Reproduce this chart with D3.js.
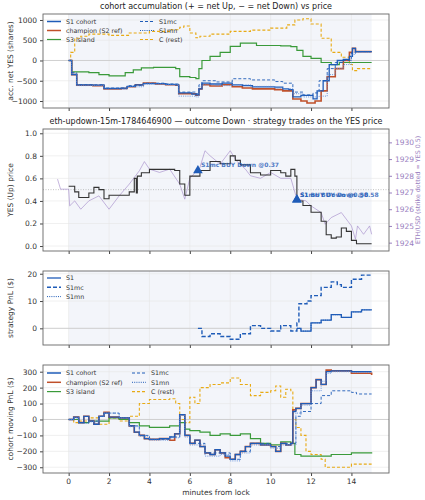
<!DOCTYPE html>
<html><head><meta charset="utf-8">
<script src="https://cdn.jsdelivr.net/npm/d3@7"></script>
<style>body{margin:0;background:#fff}text{font-family:"DejaVu Sans",sans-serif}</style>
</head><body><svg id="chart" width="425" height="500"></svg>
<script>
// accumulated net YES shares, [minute, value]
const accS1 = [[0,0],[0.15,-350],[0.4,-600],[1.2,-610],[1.6,-600],[1.75,-690],[2.6,-680],[2.9,-640],[3.3,-600],[3.7,-570],[4.3,-570],[4.8,-590],[5.3,-600],[5.45,-800],[6.1,-830],[6.3,-850],[6.45,-700],[6.6,-560],[7,-580],[7.6,-560],[8.1,-600],[8.6,-620],[9.1,-650],[10.2,-660],[10.6,-700],[10.9,-720],[11.1,-900],[11.5,-860],[12.1,-950],[12.3,-750],[12.6,-500],[12.9,-100],[13.3,0],[13.6,30],[13.9,100],[14.05,300],[14.2,220],[15,220]];
const accChamp = [[0,0],[0.15,-350],[0.4,-610],[1.2,-620],[1.75,-700],[2.6,-690],[2.9,-650],[3.3,-600],[3.7,-560],[4.3,-580],[4.8,-600],[5.3,-610],[5.45,-820],[6.3,-860],[6.45,-700],[6.6,-600],[7,-630],[7.6,-600],[8.1,-650],[8.6,-680],[9.1,-700],[10.2,-720],[10.6,-750],[11.1,-950],[11.5,-1000],[11.8,-1050],[12.2,-1000],[12.5,-750],[12.8,-400],[13.2,-200],[13.6,0],[13.9,200],[14.05,300],[14.2,220],[15,220]];
const accS1mc = [[0,0],[0.15,-300],[0.4,-600],[1.75,-680],[2.9,-620],[3.7,-560],[4.8,-580],[5.45,-780],[6.3,-820],[6.45,-600],[6.6,-500],[7.3,-530],[8.1,-450],[9,-480],[10.2,-520],[10.6,-560],[11.1,-780],[11.6,-850],[12.1,-800],[12.4,-500],[12.8,-200],[13.2,-50],[13.6,0],[14,200],[14.2,220],[15,220]];
const accS1mn = [[0,0],[0.15,-320],[0.4,-620],[1.75,-710],[2.9,-650],[3.7,-580],[4.8,-600],[5.45,-880],[6.3,-900],[6.45,-650],[6.6,-600],[7.3,-620],[8.1,-600],[9,-640],[10.2,-680],[10.6,-700],[11.1,-820],[11.6,-900],[12.4,-880],[12.8,-350],[13.2,-200],[13.6,-100],[14,150],[14.2,200],[15,200]];
const accS3 = [[0,0],[0.15,-280],[1,-300],[1.5,-350],[2,-380],[2.8,-300],[3.2,-230],[3.6,-180],[4.2,-170],[5.3,-200],[5.5,-400],[6,-420],[6.3,-450],[6.45,-200],[6.6,0],[7,100],[7.5,200],[8,350],[8.5,430],[9,430],[9.3,370],[10.5,360],[11,340],[11.3,250],[11.6,100],[12,50],[12.5,-50],[13,-100],[13.4,-50],[15,-50]];
const accC = [[0,0],[0.1,200],[0.3,550],[0.6,600],[1,650],[2,620],[3,680],[4,720],[5,760],[5.5,820],[5.7,850],[6,680],[6.3,560],[6.5,600],[7,650],[8,720],[9,750],[10,800],[10.8,880],[11.2,1000],[11.6,1030],[12,900],[12.5,550],[13,200],[13.5,80],[13.9,-100],[14.05,-250],[14.3,-200],[15,-200]];

// market price
const yesPrice = [[0,0.53],[0.3,0.48],[0.5,0.43],[1,0.47],[1.25,0.52],[1.5,0.5],[1.75,0.42],[2,0.45],[2.5,0.45],[3,0.48],[3.25,0.6],[3.35,0.47],[3.4,0.62],[3.6,0.65],[4,0.68],[5,0.68],[5.25,0.67],[5.5,0.55],[5.75,0.45],[6,0.62],[6.5,0.67],[7,0.75],[7.5,0.73],[8,0.8],[8.25,0.76],[8.5,0.72],[9,0.65],[9.5,0.63],[10,0.67],[10.5,0.65],[10.75,0.62],[11,0.68],[11.2,0.62],[11.3,0.4],[11.6,0.36],[12,0.3],[12.5,0.22],[12.75,0.1],[13,0.07],[13.25,0.08],[13.5,0.16],[13.75,0.13],[14,0.05],[14.25,0.02],[15,0.02]];
const ethPrice = [[-0.55,1927.8],[-0.4,1927.2],[0,1927.2],[0.05,1926.2],[0.3,1926.5],[0.6,1926],[1,1926.5],[1.5,1926.8],[2,1926],[2.5,1926.8],[3,1927.5],[3.5,1928.3],[3.75,1928.85],[4,1928.4],[4.5,1928.2],[5,1928.4],[5.5,1927.5],[5.75,1926.6],[6,1927.85],[6.5,1928.5],[6.75,1929.5],[7,1929.2],[7.5,1928.7],[8,1929.5],[8.3,1928.9],[8.75,1928.4],[9,1928],[9.5,1927.85],[10,1928.2],[10.5,1927.85],[11,1927.85],[11.3,1926.6],[11.75,1926.5],[12,1926.2],[12.5,1925.8],[12.7,1925.1],[13,1925.5],[13.5,1925.8],[14,1925],[14.2,1924.2],[14.3,1925],[14.6,1924.5],[14.9,1925],[15,1924.5]];
const trades = [{t:6.4,p:0.67,label:"S1mc BUY Down @0.37",dy:-3},{t:11.3,p:0.41,label:"S1mn BUY Down @0.58",dy:-3},{t:11.3,p:0.41,label:"S1 BUY Down @0.58",dy:-3}];

// strategy PnL
const pnlS1 = [[11.3,0],[11.5,-1],[12,2],[12.5,3],[13,5],[13.5,4],[14,6],[14.5,6.8],[15,6.8]];
const pnlS1mc = [[6.4,0],[6.6,-3],[7,-2],[7.5,-3],[8,-4],[8.5,-2],[9,1],[9.5,0],[10,-1],[10.5,1],[11,-1],[11.3,2],[11.4,9],[11.8,10],[12,12],[12.5,15],[13,17],[13.3,16],[13.5,15],[14,18],[14.5,19.5],[15,19.5]];
const pnlS1mn = [[11.3,0],[11.5,-1],[12,2],[12.5,3],[13,5],[13.5,4],[14,6],[14.5,6.8],[15,6.8]];

// cohort moving PnL
const mpS1 = [[0,0],[0.25,15],[0.5,-20],[0.75,20],[1,-10],[1.25,-30],[1.5,20],[1.75,40],[2,15],[2.5,10],[3,-40],[3.25,-80],[3.5,-100],[3.75,-120],[4,-125],[4.5,-120],[5,-110],[5.25,-90],[5.5,30],[5.75,-100],[6,-150],[6.25,-130],[6.5,-170],[6.75,-210],[7,-220],[7.25,-190],[7.5,-210],[7.75,-230],[8,-250],[8.25,-220],[8.5,-200],[8.75,-170],[9,-150],[9.5,-160],[10,-170],[10.25,-200],[10.5,-150],[10.75,-160],[11,-150],[11.1,50],[11.25,70],[11.5,100],[12,200],[12.25,250],[12.5,220],[12.75,300],[13,305],[14,300],[15,300]];
const mpChamp = [[0,0],[0.25,15],[0.5,-20],[0.75,20],[1,-10],[1.25,-30],[1.5,20],[1.75,45],[2,15],[2.5,10],[3,-40],[3.25,-80],[3.5,-100],[3.75,-120],[4,-125],[4.5,-120],[5,-130],[5.25,-90],[5.5,30],[5.75,-100],[6,-150],[6.25,-130],[6.5,-170],[6.75,-210],[7,-220],[7.25,-190],[7.5,-210],[7.75,-240],[8,-250],[8.25,-220],[8.5,-200],[8.75,-170],[9,-150],[9.5,-160],[10,-170],[10.25,-200],[10.5,-150],[10.75,-160],[11,-150],[11.1,60],[11.25,70],[11.5,100],[12,200],[12.25,250],[12.5,220],[12.75,310],[13,305],[14,290],[15,280]];
const mpS1mc = [[0,0],[0.25,10],[0.5,-20],[1,-10],[1.5,20],[1.75,40],[2.5,10],[3,-40],[3.5,-100],[4,-125],[5,-110],[5.5,30],[5.75,-100],[6,-150],[6.75,-210],[7.5,-210],[8,-250],[8.5,-200],[9,-150],[10,-170],[10.5,-150],[11,-150],[11.25,20],[11.5,50],[12,100],[12.5,150],[13,180],[14,170],[14.25,160],[15,160]];
const mpS1mn = [[0,0],[0.25,10],[0.5,-25],[1,-15],[1.5,20],[1.75,40],[2.5,10],[3,-45],[3.5,-105],[4,-130],[5,-115],[5.5,25],[5.75,-110],[6,-160],[6.75,-230],[7.5,-220],[8,-260],[8.5,-210],[9,-160],[10,-180],[10.5,-160],[11,-160],[11.25,40],[11.5,90],[12,180],[12.5,240],[12.75,290],[13,300],[14,295],[15,295]];
const mpS3 = [[0,0],[0.5,-20],[1,-10],[2,10],[2.5,0],[3,-20],[3.5,-40],[4,-50],[5,-40],[5.5,-20],[5.75,-60],[6,-70],[6.5,-80],[7,-100],[7.5,-90],[8,-100],[8.5,-90],[9,-120],[9.5,-150],[10,-160],[10.5,-140],[11,-150],[11.2,-220],[11.5,-230],[12.5,-230],[13,-220],[14,-210],[15,-205]];
const mpC = [[0,0],[0.25,-20],[0.5,-10],[1,10],[1.5,-30],[2,10],[2.5,-10],[3,20],[3.5,100],[4,125],[4.5,125],[5,130],[5.3,100],[5.5,0],[5.75,-20],[6,140],[6.25,100],[6.5,200],[7,220],[7.5,230],[8,260],[8.5,220],[9,150],[9.5,170],[10,180],[10.25,210],[10.5,140],[10.75,190],[11,180],[11.1,0],[11.25,-50],[11.5,-100],[11.75,-200],[12,-220],[12.5,-250],[12.7,-300],[13,-300],[14,-280],[15,-280]];

const xTicks = [0,2,4,6,8,10,12,14];
const svg = d3.select("#chart");
const L = 43, R = 389;
const x = d3.scaleLinear().domain([-1.27, 15.86]).range([L, R]);
const C = {s1:"#1f5cb8", champ:"#c0502a", s3:"#3a9a3a", c:"#e8aa14"};
const intFmt = d => d3.format("d")(d).replace("-", "\u2212");

function panel(top, bottom, ydom, yTicks, ylabel, zero, fmt) {
  const y = d3.scaleLinear().domain(ydom).range([bottom, top]);
  const g = svg.append("g");
  g.append("rect").attr("x", x(0)).attr("y", top).attr("width", x(15) - x(0)).attr("height", bottom - top).attr("fill", "#f3f5fa");
  xTicks.forEach(t => g.append("line").attr("x1", x(t)).attr("x2", x(t)).attr("y1", top).attr("y2", bottom).attr("stroke", "#e6e6e6").attr("stroke-width", 0.6));
  yTicks.forEach(t => g.append("line").attr("x1", L).attr("x2", R).attr("y1", y(t)).attr("y2", y(t)).attr("stroke", "#e6e6e6").attr("stroke-width", 0.6));
  if (zero) g.append("line").attr("x1", L).attr("x2", R).attr("y1", y(0)).attr("y2", y(0)).attr("stroke", "#c8c8c8").attr("stroke-width", 0.8);
  g.append("g").attr("transform", `translate(${L},0)`).call(d3.axisLeft(y).tickValues(yTicks).tickSize(3).tickFormat(fmt || intFmt))
    .call(a => { a.select(".domain").remove(); a.selectAll("text").attr("font-size", 7.5).attr("fill", "#333"); a.selectAll("line").attr("stroke", "#444"); });
  g.append("g").attr("transform", `translate(0,${bottom})`).call(d3.axisBottom(x).tickValues(xTicks).tickSize(3).tickFormat(""))
    .call(a => { a.select(".domain").remove(); a.selectAll("line").attr("stroke", "#444"); });
  g.append("text").attr("transform", `translate(13,${(top + bottom) / 2}) rotate(-90)`).attr("text-anchor", "middle").attr("font-size", 7.5).attr("fill", "#333").text(ylabel);
  return {y, g, top, bottom};
}
function frame(p) {
  p.g.append("rect").attr("x", L).attr("y", p.top).attr("width", R - L).attr("height", p.bottom - p.top).attr("fill", "none").attr("stroke", "#666").attr("stroke-width", 0.9);
}
function step(p, data, color, w, dash, op) {
  const line = d3.line().x(d => x(d[0])).y(d => p.y(d[1])).curve(d3.curveStepAfter);
  p.g.append("path").datum(data).attr("d", line).attr("fill", "none").attr("stroke", color).attr("stroke-width", w).attr("stroke-dasharray", dash || null).attr("opacity", op || 1);
}
function legend(p, items, x0, y0, colW, rowH, rows) {
  items.forEach((it, i) => {
    const cx = x0 + Math.floor(i / rows) * colW, cy = y0 + (i % rows) * rowH;
    p.g.append("line").attr("x1", cx).attr("x2", cx + 14).attr("y1", cy).attr("y2", cy).attr("stroke", it.c).attr("stroke-width", it.w).attr("stroke-dasharray", it.d || null);
    p.g.append("text").attr("x", cx + 19).attr("y", cy + 2.3).attr("font-size", 6.3).attr("fill", "#333").text(it.n);
  });
}
const cohortItems = [{n:"S1 cohort",c:C.s1,w:1.5},{n:"champion (S2 ref)",c:C.champ,w:1.5},{n:"S3 island",c:C.s3,w:1.2},{n:"S1mc",c:C.s1,w:1,d:"3,2"},{n:"S1mn",c:C.s1,w:1,d:"1,1.2"},{n:"C (rest)",c:C.c,w:1.1,d:"3,2"}];

// panel 1
const p1 = panel(14, 108, [-1173, 1148], [-1000, -500, 0, 500, 1000], "acc. net YES (shares)", true);
step(p1, accC, C.c, 1.1, "3,2");
step(p1, accS3, C.s3, 1.2);
step(p1, accChamp, C.champ, 1.6);
step(p1, accS1, C.s1, 1.3);
step(p1, accS1mc, C.s1, 0.9, "3,2");
step(p1, accS1mn, "#5a8ad8", 0.9, "1,1.2");
legend(p1, cohortItems, 47, 21.5, 93, 9, 3);
frame(p1);
svg.append("text").attr("x", (L + R) / 2).attr("y", 9).attr("text-anchor", "middle").attr("font-size", 8).attr("fill", "#222").text("cohort accumulation (+ = net Up, \u2212 = net Down) vs price");

// panel 2
const p2 = panel(129, 251, [-0.044, 1.038], [0, 0.2, 0.4, 0.6, 0.8, 1.0], "YES (Up) price", false, d3.format(".1f"));
p2.g.append("line").attr("x1", L).attr("x2", R).attr("y1", p2.y(0.5)).attr("y2", p2.y(0.5)).attr("stroke", "#aaa").attr("stroke-width", 0.7).attr("stroke-dasharray", "1,1.5");
const yEth = d3.scaleLinear().domain([1923.5, 1930.8]).range([251, 129]);
p2.g.append("path").datum(ethPrice).attr("d", d3.line().x(d => x(d[0])).y(d => yEth(d[1]))).attr("fill", "none").attr("stroke", "#a890cc").attr("stroke-width", 0.9).attr("opacity", 0.75);
step(p2, yesPrice, "#333", 1.1);
p2.g.append("g").attr("transform", `translate(${R},0)`).call(d3.axisRight(yEth).tickValues([1924, 1925, 1926, 1927, 1928, 1929, 1930]).tickSize(3).tickFormat(d3.format("d")))
  .call(a => { a.select(".domain").remove(); a.selectAll("text").attr("font-size", 7.5).attr("fill", "#9a80c0"); a.selectAll("line").attr("stroke", "#9a80c0"); });
p2.g.append("text").attr("transform", `translate(420,190) rotate(-90)`).attr("text-anchor", "middle").attr("font-size", 6.3).attr("fill", "#9a80c0").text("ETH/USD (strike dotted = YES 0.5)");
trades.forEach(tr => {
  p2.g.append("path").attr("d", d3.symbol(d3.symbolTriangle, 40)()).attr("transform", `translate(${x(tr.t)},${p2.y(tr.p)})`).attr("fill", C.s1);
  p2.g.append("text").attr("x", x(tr.t) + 3).attr("y", p2.y(tr.p) + tr.dy).attr("font-size", 6).attr("font-weight", "bold").attr("fill", C.s1).attr("opacity", 0.8).text(tr.label);
});
frame(p2);
svg.append("text").attr("x", (L + R) / 2).attr("y", 124).attr("text-anchor", "middle").attr("font-size", 8).attr("fill", "#222").text("eth-updown-15m-1784646900 \u2014 outcome Down \u00b7 strategy trades on the YES price");

// panel 3
const p3 = panel(271, 345, [-6.1, 21], [0, 10, 20], "strategy PnL ($)", true);
step(p3, pnlS1mn, C.s1, 1, "1,1.2");
step(p3, pnlS1, C.s1, 1.3);
step(p3, pnlS1mc, C.s1, 1.4, "4,2");
legend(p3, [{n:"S1",c:C.s1,w:1.3},{n:"S1mc",c:C.s1,w:1.4,d:"4,2"},{n:"S1mn",c:C.s1,w:1,d:"1,1.2"}], 47, 278, 0, 9.3, 3);
frame(p3);

// panel 4
const p4 = panel(365, 473, [-336, 342], [-300, -200, -100, 0, 100, 200, 300], "cohort moving PnL ($)", true);
step(p4, mpC, C.c, 1.1, "3,2");
step(p4, mpS3, C.s3, 1.2);
step(p4, mpChamp, C.champ, 1.6);
step(p4, mpS1, C.s1, 1.3);
step(p4, mpS1mc, C.s1, 0.9, "3,2");
step(p4, mpS1mn, "#5a8ad8", 0.9, "1,1.2");
legend(p4, cohortItems, 47, 373, 85, 9.3, 3);
frame(p4);
xTicks.forEach(t => svg.append("text").attr("x", x(t)).attr("y", 484).attr("text-anchor", "middle").attr("font-size", 7.5).attr("fill", "#333").text(t));
svg.append("text").attr("x", (L + R) / 2).attr("y", 495).attr("text-anchor", "middle").attr("font-size", 7.5).attr("fill", "#333").text("minutes from lock");
</script></body></html>
